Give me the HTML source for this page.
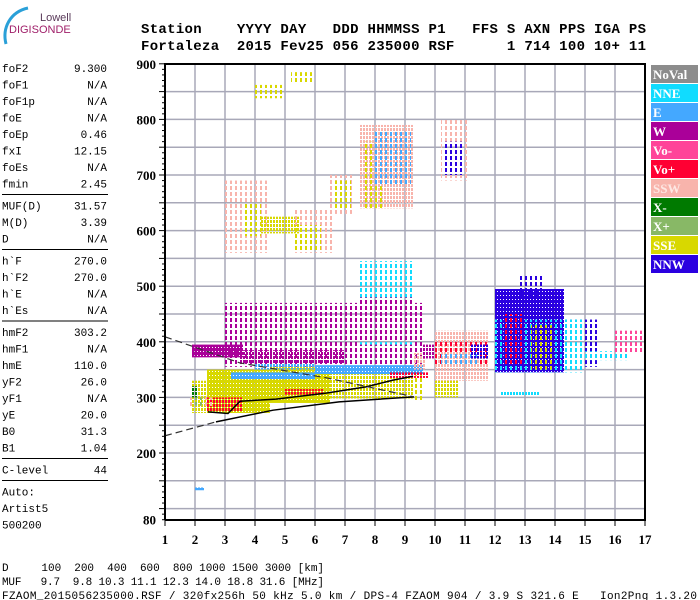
<!DOCTYPE html>
<html><head><meta charset="utf-8"><style>
html,body{margin:0;padding:0;background:#fff;}
svg{display:block;}
</style></head><body>
<svg id="chart" width="700" height="600" viewBox="0 0 700 600" xmlns="http://www.w3.org/2000/svg">
<defs id="defs"></defs>
<g>
  <path d="M6,44 C2,28 10,12 28,8" fill="none" stroke="#2aa0d8" stroke-width="3"/>
  <text x="40" y="21" font-family="Liberation Sans, sans-serif" font-size="11" fill="#5a3a5a">Lowell</text>
  <text x="9" y="33" font-family="Liberation Sans, sans-serif" font-size="11" fill="#a0206a">DIGISONDE</text>
</g>
<g font-family="Liberation Mono, monospace" font-weight="bold" font-size="14" fill="#000">
  <text x="141" y="33" xml:space="preserve" textLength="505">Station    YYYY DAY   DDD HHMMSS P1   FFS S AXN PPS IGA PS</text>
  <text x="141" y="50" xml:space="preserve" textLength="505">Fortaleza  2015 Fev25 056 235000 RSF      1 714 100 10+ 11</text>
</g>
<g id="params" font-family="Liberation Mono, monospace" font-size="11" fill="#000"></g>
<g id="plot"></g>
<g id="legend"></g>
<g font-family="Liberation Mono, monospace" font-size="11" fill="#000">
  <text x="2" y="571" xml:space="preserve" textLength="322">D     100  200  400  600  800 1000 1500 3000 [km]</text>
  <text x="2" y="585" xml:space="preserve" textLength="322">MUF   9.7  9.8 10.3 11.1 12.3 14.0 18.8 31.6 [MHz]</text>
  <text x="2" y="599" xml:space="preserve" textLength="695">FZAOM_2015056235000.RSF / 320fx256h 50 kHz 5.0 km / DPS-4 FZAOM 904 / 3.9 S 321.6 E   Ion2Png 1.3.20</text>
</g>
</svg>
<script>
// ---- data ----
const paramNames = ["foF2","foF1","foF1p","foE","foEp","fxI","foEs","fmin","MUF(D)","M(D)","D","h`F","h`F2","h`E","h`Es","hmF2","hmF1","hmE","yF2","yF1","yE","B0","B1","C-level","Auto:","Artist5","500200"];
const paramValues = ["9.300","N/A","N/A","N/A","0.46","12.15","N/A","2.45","31.57","3.39","N/A","270.0","270.0","N/A","N/A","303.2","N/A","110.0","26.0","N/A","20.0","31.3","1.04","44","","",""];
const legendLabels = ["NoVal","NNE","E","W","Vo-","Vo+","SSW","X-","X+","SSE","NNW"];
const legendColors = ["#8c8c8c","#10dcff","#44a8ff","#aa0099","#ff4499","#ff0033","#f8b4ac","#007a00","#88b866","#d8d800","#2a00e0"];
const yTicks = [200,300,400,500,600,700,800,900];
const xTicks = [1,2,3,4,5,6,7,8,9,10,11,12,13,14,15,16,17];
// echo clusters
const echoF0 = [1.9,2.4,4.5,6.5,9.3, 3.0,1.9,3.5, 3.2,6.0,4.0, 2.4,5.0,8.5, 1.8,9.3,9.6, 10.0,10.0,10.0,10.2,11.2, 12.0,12.8,14.3,12.0,12.2,14.5,16.0, 7.5,7.5, 3.0,3.6,4.2,5.3,5.3,6.5,6.6,7.5,7.6,8.0,10.2,10.3, 4.0,5.2, 2.0, 1.9,1.9, 12.3,13.2];
const echoF1 = [2.4,4.5,6.5,9.3,9.6, 9.6,3.6,7.0, 6.0,9.6,6.0, 3.6,6.3,9.8, 2.6,9.7,10.2, 11.8,11.8,10.8,11.5,11.8, 14.3,13.6,15.5,15.0,13.5,16.5,17.0, 9.3,9.3, 4.5,4.2,5.5,6.6,6.2,7.3,7.2,9.3,8.3,9.2,11.1,11.0, 5.0,6.0, 2.3, 2.1,2.3, 13.0,14.0];
const echoH0 = [272,272,290,298,295, 355,372,360, 333,342,350, 275,305,335, 282,350,370, 330,360,300,360,370, 345,470,355,345,303,367,380, 395,400, 560,590,595,560,565,630,640,640,640,680,690,700, 838,865, 133, 300,285, 360,350];
const echoH1 = [330,350,355,352,340, 470,395,385, 345,358,360, 300,315,345, 300,380,395, 420,400,330,380,395, 495,520,440,440,310,383,420, 545,480, 690,650,625,640,610,700,690,790,760,780,800,760, 862,885, 138, 320,300, 450,430];
const echoColor = [9,9,9,9,9, 3,3,3, 2,2,2, 5,5,5, 6,6,3, 6,5,9,2,10, 10,10,10,1,1,1,4, 1,3, 6,9,9,6,9,6,9,6,9,2,6,10, 9,9, 2, 7,8, 5,9];
const echoDensity = [1,2,2,1,0, 0,2,1, 2,2,1, 1,1,1, 0,1,1, 1,0,1,0,1, 2,0,0,0,1,0,0, 0,0, 0,0,1,0,0,0,0,1,0,0,0,0, 0,0, 2, 1,0, 0,0];
// trace lines
const traceF = [2.43,3.1,3.5,4.7,6.4,7.7,8.6,9.27];
const traceH = [274,271,293,297,308,319,331,338];
const profileF = [2.7,4.6,6.8,9.3];
const profileH = [256,277,292,301];
const profileLowF = [1.0,2.7];
const profileLowH = [231,256];
const upperF = [1.0,3.5,6.4,9.3];
const upperH = [409,362,335,301];

// ---- layout ----
const NS="http://www.w3.org/2000/svg";
const X0=165,X1=645,Y0=64,Y1=520;
function xs(f){return X0+(f-1)*30;}
function ys(h){return 453-(h-200)*0.556;}
function mk(tag,attrs,parent){const e=document.createElementNS(NS,tag);for(const k in attrs)e.setAttribute(k,attrs[k]);parent.appendChild(e);return e;}

// params panel
const pg=document.getElementById('params');
const sepAfter=[7,10,14,22,23];
let y=72;
paramNames.forEach((n,i)=>{
  const t=mk('text',{x:2,y:y},pg);t.textContent=n;
  
  
  if(paramValues[i]){const v=mk('text',{x:107,y:y,'text-anchor':'end'},pg);v.textContent=paramValues[i];
  
  }
  if(sepAfter.includes(i)){const l=mk('line',{x1:2,x2:108,y1:y+7,y2:y+7,stroke:'#000','stroke-width':1},pg);
  
  
  y+=5.5;}
  y+=16.5;
});

// patterns
const defs=document.getElementById('defs');
legendColors.forEach((c,i)=>{
  const p2=mk('pattern',{id:'pd'+i,width:3,height:4,patternUnits:'userSpaceOnUse'},defs);
  mk('rect',{x:0,y:0,width:3,height:3,fill:c},p2);
  mk('rect',{x:0,y:3,width:2,height:1,fill:c},p2);
  const p1=mk('pattern',{id:'pm'+i,width:3,height:4,patternUnits:'userSpaceOnUse'},defs);
  mk('rect',{x:0,y:0,width:2,height:3,fill:c},p1);
  const p0=mk('pattern',{id:'ps'+i,width:5,height:6,patternUnits:'userSpaceOnUse'},defs);
  mk('rect',{x:0,y:0,width:2,height:4,fill:c},p0);
});

const plot=document.getElementById('plot');
// grid
for(let h=100;h<=900;h+=50){const l=mk('line',{x1:X0,x2:X1,y1:ys(h),y2:ys(h),stroke:'#a8a8b8','stroke-width':1.5},plot);
  
  }
xTicks.forEach(f=>{if(f>1){const l=mk('line',{x1:xs(f),x2:xs(f),y1:Y0,y2:Y1,stroke:'#a8a8b8','stroke-width':1.5},plot);
  
  }});

// echoes
echoF0.forEach((f0,i)=>{
  const x=xs(f0),w=xs(echoF1[i])-x,yy=ys(echoH1[i]),hh=ys(echoH0[i])-yy;
  const d=echoDensity[i],c=echoColor[i];
  const fill=d===2?'url(#pd'+c+')':(d===1?'url(#pm'+c+')':'url(#ps'+c+')');
  const r=mk('rect',{x:x,y:yy,width:w,height:hh,fill:fill},plot);
  
  
});

// lines
function pts(F,H){return F.map((f,i)=>xs(f)+','+ys(H[i])).join(' ');}
const tr=mk('polyline',{points:pts(traceF,traceH),fill:'none',stroke:'#000','stroke-width':1.5},plot);


const pr=mk('polyline',{points:pts(profileF,profileH),fill:'none',stroke:'#000','stroke-width':1.5},plot);


const pl=mk('polyline',{points:pts(profileLowF,profileLowH),fill:'none',stroke:'#333','stroke-width':1.2,'stroke-dasharray':'7,4'},plot);


const up=mk('polyline',{points:pts(upperF,upperH),fill:'none',stroke:'#333','stroke-width':1.2,'stroke-dasharray':'7,4'},plot);



// frame and axes
const fr=mk('path',{d:`M${X0},${Y1} L${X0},${Y0} L${X1},${Y0} L${X1},${Y1} L${X0},${Y1}`,fill:'none',stroke:'#000','stroke-width':2},plot);


for(let h=80;h<=900;h+=10){const big=h%50===0;const l=mk('line',{x1:X0-(big?6:3),x2:X0,y1:ys(h),y2:ys(h),stroke:'#000','stroke-width':1},plot);
  
  }
const yl=yTicks.concat([80]);
yl.forEach(h=>{const t=mk('text',{x:156,y:ys(h)+5,'text-anchor':'end','font-family':'Liberation Serif, serif','font-weight':'bold','font-size':13},plot);t.textContent=h;
  
  });
xTicks.forEach(f=>{const l=mk('line',{x1:xs(f),x2:xs(f),y1:Y1,y2:Y1+6,stroke:'#000','stroke-width':1},plot);
  
  
  const t=mk('text',{x:xs(f),y:544,'text-anchor':'middle','font-family':'Liberation Serif, serif','font-weight':'bold','font-size':13},plot);t.textContent=f;
  
  });

// legend
const lg=document.getElementById('legend');
legendLabels.forEach((n,i)=>{
  const g=mk('g',{},lg);
  
  
  mk('rect',{x:651,y:65+i*19,width:47,height:18,fill:legendColors[i]},g);
  const t=mk('text',{x:653,y:79+i*19,'font-family':'Liberation Serif, serif','font-weight':'bold','font-size':13,fill:i===6?'#fde8e4':'#fff'},g);t.textContent=n;
});
</script>
</body></html>
